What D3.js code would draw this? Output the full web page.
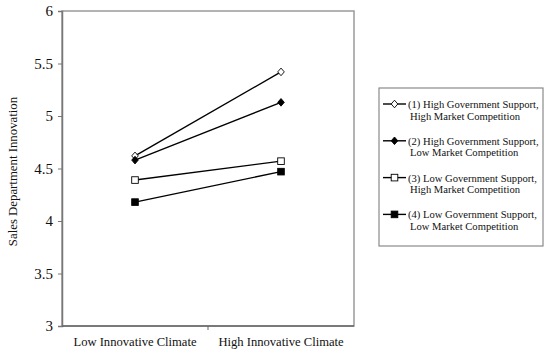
<!DOCTYPE html>
<html>
<head>
<meta charset="utf-8">
<script src="https://cdn.jsdelivr.net/npm/d3@7"></script>
<style>
  body { margin: 0; background: #fff; }
  text { font-family: "Liberation Serif", "Times New Roman", serif; fill: #111; }
</style>
</head>
<body>
<div id="chart"></div>
<script>
//Datos
const categories = ['Low Innovative Climate', 'High Innovative Climate'];
const seriesNames = [
    ['(1) High Government Support,', 'High Market Competition'],
    ['(2) High Government Support,', 'Low Market Competition'],
    ['(3) Low Government Support,', 'High Market Competition'],
    ['(4) Low Government Support,', 'Low Market Competition']
];
const series1 = [4.62, 5.42];
const series2 = [4.58, 5.13];
const series3 = [4.39, 4.57];
const series4 = [4.18, 4.47];
const yTicks = [3, 3.5, 4, 4.5, 5, 5.5, 6];

const markers = ['diamondOpen', 'diamond', 'squareOpen', 'square'];

let width = 550, height = 352;
let margin = {top: 11, right: 196, bottom: 26, left: 62};
let innerW = width - margin.left - margin.right,
    innerH = height - margin.top - margin.bottom;

let svg = d3.select('#chart')
    .append('svg')
    .attr('width', width)
    .attr('height', height);

let g = svg.append('g')
    .attr('transform', 'translate(' + margin.left + ',' + margin.top + ')');

//Escalas
let x = d3.scaleBand()
    .domain(categories)
    .range([0, innerW]);

let y = d3.scaleLinear()
    .domain([3, 6])
    .range([innerH, 0]);

//Borde gris
g.append('rect')
    .attr('width', innerW)
    .attr('height', innerH)
    .attr('fill', 'none')
    .attr('stroke', '#9a9a9a')
    .attr('stroke-width', 1.5);

//Eje Y
let yAxis = g.append('g')
    .call(d3.axisLeft(y).tickValues(yTicks).tickSize(4).tickPadding(5).tickFormat(d3.format('')));
yAxis.select('.domain').attr('stroke', '#777').attr('stroke-width', 1.5);
yAxis.selectAll('.tick line').attr('stroke', '#777');
yAxis.selectAll('.tick text').style('font-size', '15px').attr('font-family', null);

//Eje X (ticks en los bordes de categorías)
let xAxis = g.append('g')
    .attr('transform', 'translate(0,' + innerH + ')');
xAxis.append('line')
    .attr('x1', 0).attr('x2', innerW)
    .attr('stroke', '#666').attr('stroke-width', 1.5);
xAxis.selectAll('.xtick')
    .data(categories.slice(1))
    .enter()
    .append('line')
    .attr('x1', d => x(d)).attr('x2', d => x(d))
    .attr('y1', 0).attr('y2', 4)
    .attr('stroke', '#666');
xAxis.selectAll('.xlabel')
    .data(categories)
    .enter()
    .append('text')
    .attr('x', d => x(d) + x.bandwidth() / 2)
    .attr('y', 20)
    .attr('text-anchor', 'middle')
    .style('font-size', '12.6px')
    .text(d => d);

//Título eje Y
svg.append('text')
    .attr('transform', 'translate(17,' + (margin.top + innerH / 2 + 3) + ') rotate(-90)')
    .attr('text-anchor', 'middle')
    .style('font-size', '12.8px')
    .text('Sales Department Innovation');

//Marcadores
function drawMarker(sel, type, cx, cy) {
    let filled = (type === 'diamond' || type === 'square');
    if (type.indexOf('diamond') === 0) {
        sel.append('path')
            .attr('d', 'M' + cx + ',' + (cy - 3.8) + 'L' + (cx + 3.3) + ',' + cy + 'L' + cx + ',' + (cy + 3.8) + 'L' + (cx - 3.3) + ',' + cy + 'Z')
            .attr('fill', filled ? '#000' : '#fff')
            .attr('stroke', '#000')
            .attr('stroke-width', 0.9);
    } else {
        sel.append('rect')
            .attr('x', cx - 3.3).attr('y', cy - 3.3)
            .attr('width', 6.6).attr('height', 6.6)
            .attr('fill', filled ? '#000' : '#fff')
            .attr('stroke', '#000')
            .attr('stroke-width', 0.9);
    }
}

let allSeries = [series1, series2, series3, series4];
let line = d3.line()
    .x((d, i) => x(categories[i]) + x.bandwidth() / 2)
    .y(d => y(d));

allSeries.forEach(function(s, k) {
    g.append('path')
        .datum(s)
        .attr('d', line)
        .attr('fill', 'none')
        .attr('stroke', '#000')
        .attr('stroke-width', 1.4);
});
allSeries.forEach(function(s, k) {
    s.forEach(function(v, i) {
        drawMarker(g, markers[k], x(categories[i]) + x.bandwidth() / 2, y(v));
    });
});

//Leyenda
let lg = svg.append('g').attr('transform', 'translate(379,88)');
lg.append('rect')
    .attr('width', 164).attr('height', 158)
    .attr('fill', '#fff')
    .attr('stroke', '#8a8a8a')
    .attr('stroke-width', 1.2);

seriesNames.forEach(function(name, k) {
    let cy = 16 + k * 36.8;
    lg.append('line')
        .attr('x1', 4).attr('x2', 27)
        .attr('y1', cy).attr('y2', cy)
        .attr('stroke', '#000').attr('stroke-width', 1.4);
    drawMarker(lg, markers[k], 15.5, cy);
    let t = lg.append('text')
        .attr('x', 29)
        .attr('y', cy + 4)
        .style('font-size', '10.6px');
    t.append('tspan').text(name[0]);
    t.append('tspan').attr('x', 31).attr('dy', 11.5).text(name[1]);
});
</script>
</body>
</html>
